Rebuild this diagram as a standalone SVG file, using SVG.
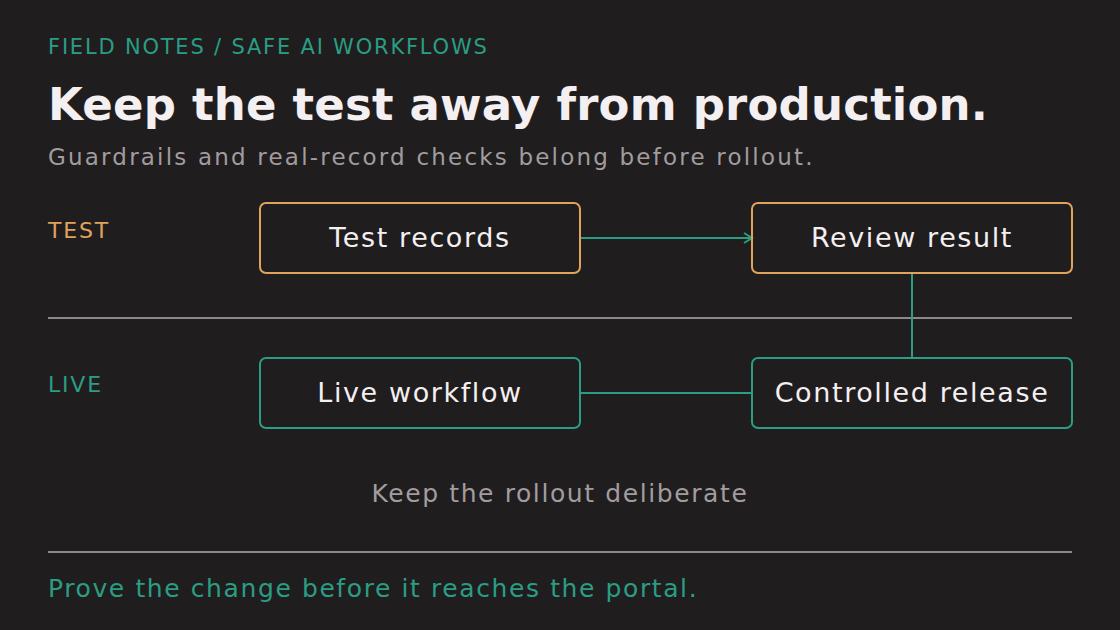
<svg xmlns="http://www.w3.org/2000/svg" width="1120" height="630" viewBox="0 0 1120 630">
<defs>
<style>
text{font-family:"DejaVu Sans",sans-serif}
.node{fill:none;stroke-width:2}
.t{fill:#f4eff1;font-size:27px;text-anchor:middle;letter-spacing:1.6px}
.c{stroke:#2a9d84;stroke-width:2;fill:none}
.rule{stroke:#8d878a;stroke-width:2}
</style>
<marker id="ah" markerWidth="12" markerHeight="12" refX="10" refY="6" orient="auto" markerUnits="userSpaceOnUse">
<path d="M2,1 L10,6 L2,11" fill="none" stroke="#2a9d84" stroke-width="2"/>
</marker>
</defs>
<rect width="1120" height="630" fill="#201d1f"/>
<text x="48" y="54" font-size="21" fill="#2a9d84" letter-spacing="1.8">FIELD NOTES / SAFE AI WORKFLOWS</text>
<text x="48" y="120" font-size="45" font-weight="bold" fill="#f4eff1" letter-spacing="0.2">Keep the test away from production.</text>
<text x="48" y="165" font-size="23" fill="#a29c9f" letter-spacing="2.2">Guardrails and real-record checks belong before rollout.</text>
<text x="48" y="238" font-size="22" fill="#e0a35a" letter-spacing="1.8">TEST</text>
<text x="48" y="392" font-size="22" fill="#2a9d84" letter-spacing="1.8">LIVE</text>
<line class="rule" x1="48" y1="318" x2="1072" y2="318"/>
<line class="rule" x1="48" y1="552" x2="1072" y2="552"/>
<g id="connectors">
<line class="c" x1="581" y1="238" x2="752" y2="238" marker-end="url(#ah)"/>
<line class="c" x1="912" y1="273" x2="912" y2="358"/>
<line class="c" x1="580" y1="393" x2="752" y2="393"/>
</g>
<g id="test-records"><rect class="node" x="260" y="203" width="320" height="70" rx="6" stroke="#e0a35a"/><text class="t" x="420" y="247">Test records</text></g>
<g id="review-result"><rect class="node" x="752" y="203" width="320" height="70" rx="6" stroke="#e0a35a"/><text class="t" x="912" y="247">Review result</text></g>
<g id="live-workflow"><rect class="node" x="260" y="358" width="320" height="70" rx="6" stroke="#2a9d84"/><text class="t" x="420" y="402">Live workflow</text></g>
<g id="controlled-release"><rect class="node" x="752" y="358" width="320" height="70" rx="6" stroke="#2a9d84"/><text class="t" x="912" y="402">Controlled release</text></g>
<text x="560" y="502" font-size="25" fill="#a29c9f" text-anchor="middle" letter-spacing="1.6">Keep the rollout deliberate</text>
<text x="48" y="597" font-size="25" fill="#2a9d84" letter-spacing="1.6">Prove the change before it reaches the portal.</text>
</svg>
